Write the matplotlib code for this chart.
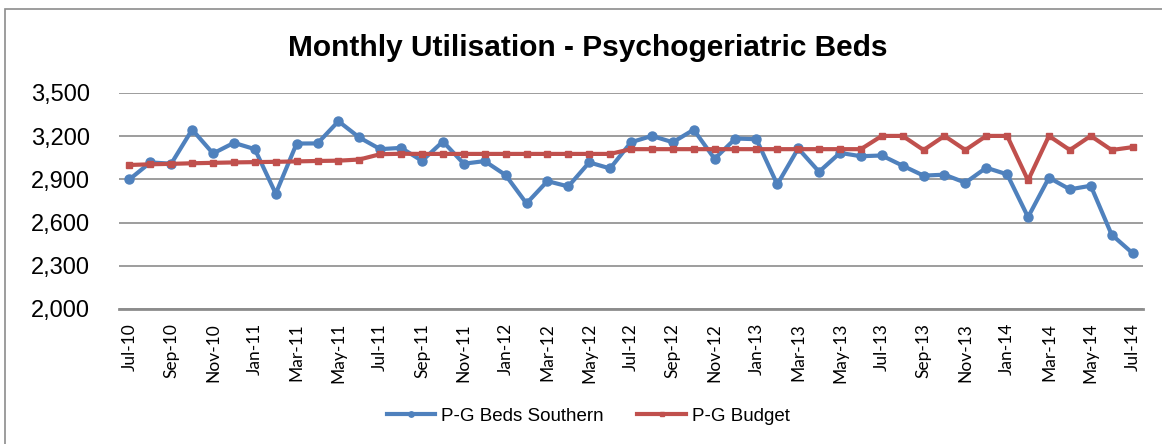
import pandas as pd
import matplotlib.pyplot as plt
from matplotlib.patches import Rectangle

# monthly categories Jul-10 .. Jul-14
months = list(pd.date_range('2010-07-01', periods=49, freq='MS').strftime('%b-%y'))

beds_southern = [2900, 3018, 3009, 3246, 3080, 3154, 3110, 2801, 3149, 3150,
                 3304, 3191, 3110, 3119, 3029, 3163, 3009, 3027, 2930, 2733,
                 2888, 2851, 3018, 2976, 3158, 3202, 3158, 3245, 3043, 3184,
                 3179, 2865, 3115, 2953, 3084, 3061, 3066, 2995, 2926, 2933,
                 2877, 2981, 2935, 2638, 2912, 2831, 2856, 2516, 2388]

budget = [3000, 3005, 3008, 3012, 3015, 3018, 3020, 3022, 3025, 3028,
          3030, 3038, 3075, 3078, 3077, 3077, 3077, 3077, 3077, 3077,
          3077, 3077, 3077, 3077, 3110, 3110, 3110, 3110, 3110, 3110,
          3110, 3110, 3110, 3110, 3110, 3110, 3202, 3202, 3104, 3202,
          3104, 3202, 3202, 2893, 3202, 3104, 3202, 3104, 3124]

yticks = [2000, 2300, 2600, 2900, 3200, 3500]

BLUE = '#4F81BD'
RED = '#C0504D'

fig = plt.figure(figsize=(11.62, 4.44), dpi=100)
ax = fig.add_axes([119 / 1162, 1 - 309 / 444, (1143 - 119) / 1162, (309 - 93) / 444])

x = list(range(len(months)))
ax.plot(x, beds_southern, color=BLUE, lw=3, marker='o', ms=6.5,
        label='P-G Beds Southern', zorder=3)
ax.plot(x, budget, color=RED, lw=3, marker='s', ms=4.5,
        label='P-G Budget', zorder=3)

ax.set_xlim(-0.5, len(months) - 0.5)
ax.set_ylim(2000, 3500)
ax.set_yticks(yticks)
ax.set_yticklabels([f'{v:,}' for v in yticks], family='Liberation Sans', fontsize=17)
ax.tick_params(axis='y', length=0, pad=21)

ax.set_xticks(x[::2])
ax.set_xticklabels(months[::2], rotation=90, family='Lato', fontsize=12.5)
ax.tick_params(axis='x', length=0, pad=10)

ax.grid(axis='y', color='#8c8c8c', lw=1.2)
ax.set_axisbelow(True)
for s in ['top', 'right', 'left']:
    ax.spines[s].set_visible(False)
ax.spines['bottom'].set_color('#8c8c8c')
ax.spines['bottom'].set_linewidth(2)

fig.text(588 / 1162, 1 - 56 / 444, 'Monthly Utilisation - Psychogeriatric Beds',
         ha='center', va='baseline', fontsize=21.5, fontweight='bold',
         family='Liberation Sans')

handles, labels = ax.get_legend_handles_labels()
leg = fig.legend(handles, labels, loc='center', bbox_to_anchor=(588 / 1162, 1 - 416 / 444),
                 ncol=2, frameon=False, prop={'family': 'Liberation Sans', 'size': 13.5},
                 handlelength=2.6, handletextpad=0.3, columnspacing=1.8, markerscale=0.6)

# outer chart border (clipped on right and bottom like the original)
fig.patches.append(Rectangle((5 / 1162, -0.05), 1.1, 0.05 + 1 - 9 / 444,
                             transform=fig.transFigure, fill=False,
                             edgecolor='#8c8c8c', lw=1.2))

plt.savefig('out.png', format='png')
